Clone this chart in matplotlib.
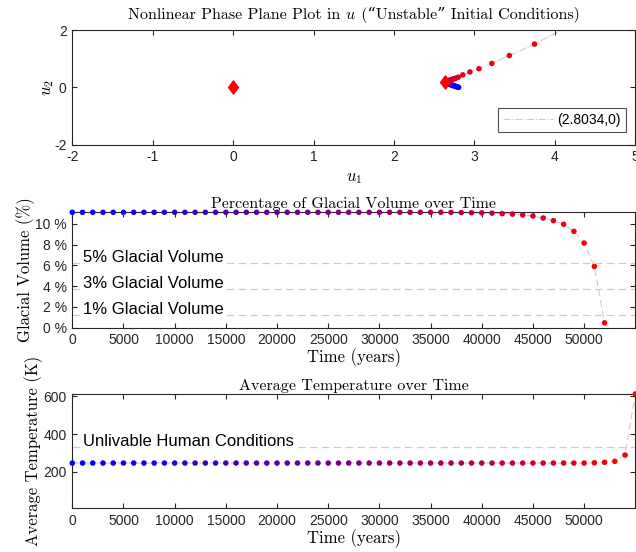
import numpy as np
import matplotlib
matplotlib.use("Agg")
import matplotlib.pyplot as plt
from matplotlib.path import Path
from matplotlib.colors import LinearSegmentedColormap
from matplotlib.ticker import FixedFormatter
from matplotlib.offsetbox import TextArea, HPacker, AnnotationBbox

plt.rcParams['axes.unicode_minus'] = False
plt.rcParams['mathtext.fontset'] = 'cm'

# ---------------- data ----------------
years = np.arange(0, 55001, 1000)          # simulation time grid (years)

# percentage of glacial volume, 0 .. 52000 years
glacial_volume = [11.13] * 35 + [
    11.13, 11.13, 11.12, 11.10, 11.09, 11.08, 11.05, 11.00, 10.96,
    10.87, 10.77, 10.58, 10.32, 9.97, 9.29, 8.16, 5.90, 0.45]

# average temperature (K), 0 .. 55000 years
temperature = [247.0] * 51 + [248.5, 251.0, 256.0, 289.0, 611.0]

# phase-plane trajectory (u1, u2), one point per time step
u1 = [2.803, 2.791, 2.779, 2.767, 2.756, 2.745, 2.735, 2.725, 2.716, 2.707,
      2.699, 2.691, 2.684, 2.678, 2.672, 2.667, 2.662, 2.658, 2.654, 2.651,
      2.648, 2.646, 2.644, 2.643, 2.643, 2.643, 2.644, 2.645, 2.647, 2.649,
      2.652, 2.655, 2.658, 2.662, 2.666, 2.670, 2.675, 2.680, 2.686, 2.692,
      2.699, 2.707, 2.716, 2.726, 2.738, 2.752, 2.770, 2.798, 2.854, 2.944,
      3.056, 3.217, 3.434, 3.747, 4.300, 5.400]
u2 = [0.000, 0.011, 0.022, 0.033, 0.044, 0.055, 0.065, 0.075, 0.084, 0.093,
      0.101, 0.109, 0.116, 0.123, 0.129, 0.135, 0.140, 0.145, 0.150, 0.154,
      0.158, 0.162, 0.166, 0.170, 0.174, 0.178, 0.182, 0.186, 0.190, 0.194,
      0.198, 0.202, 0.206, 0.211, 0.216, 0.221, 0.226, 0.232, 0.238, 0.245,
      0.252, 0.260, 0.269, 0.279, 0.291, 0.305, 0.323, 0.352, 0.434, 0.537,
      0.651, 0.834, 1.109, 1.509, 2.320, 4.000]

equilibria_u1 = [0.0, 2.63]
equilibria_u2 = [0.0, 0.17]
trajectory_label = '(2.8034,0)'

volume_levels = [6.25, 3.75, 1.25]
volume_labels = ['5% Glacial Volume', '3% Glacial Volume', '1% Glacial Volume']
unlivable_temp = 332
unlivable_label = 'Unlivable Human Conditions'

# ---------------- styling ----------------
SERIF = ['cmr10', 'DejaVu Serif']
SANS = 'Liberation Sans'
AX_COL = (0.15, 0.15, 0.15)
GREY = (0.8, 0.8, 0.8)
DASH = (0, (6, 3.5))
blue_red = LinearSegmentedColormap.from_list('blue_red', [(0, 0, 1), (1, 0, 0)])
diamond = Path([(0, 1), (0.75, 0), (0, -1), (-0.75, 0), (0, 1)],
               [Path.MOVETO, Path.LINETO, Path.LINETO, Path.LINETO, Path.CLOSEPOLY])

W, H = 636, 552
fig = plt.figure(figsize=(W / 100, H / 100), dpi=100)


def make_axes(top_px, bottom_px, left_px=72.3, right_px=635.3):
    return fig.add_axes([left_px / W, 1 - bottom_px / H,
                         (right_px - left_px) / W, (bottom_px - top_px) / H])


def style(ax):
    for s in ax.spines.values():
        s.set_color(AX_COL)
        s.set_linewidth(0.8)
    ax.tick_params(direction='in', length=3.5, width=0.8, colors=AX_COL,
                   top=True, right=True, labelsize=10, pad=4)
    for lab in ax.get_xticklabels() + ax.get_yticklabels():
        lab.set_fontfamily(SANS)


def point_colors(n):
    return blue_red(np.linspace(0, 1, n))


# ---------------- phase plane ----------------
ax1 = make_axes(30, 144.7)
ax1.plot(u1, u2, ls='-.', color=GREY, lw=0.8, zorder=1, label=trajectory_label)
ax1.scatter(u1, u2, c=point_colors(len(u1)), s=16, edgecolors='none', zorder=3)
ax1.plot(equilibria_u1, equilibria_u2, ls='none', marker=diamond, ms=9.5,
         color='red', zorder=4)
ax1.set_xlim(-2, 5)
ax1.set_ylim(-2, 2)
ax1.set_xticks(range(-2, 6))
ax1.set_yticks([-2, 0, 2])

# title assembled from pieces: roman text, math-italic u, roman text with curly quotes
title_props = dict(family=SERIF, size=11.5, color='black')
title_parts = [
    TextArea('Nonlinear Phase Plane Plot in ', textprops=title_props),
    TextArea('$u$', textprops=dict(size=11.5, color='black')),
    TextArea(' (\u201cUnstable\u201d Initial Conditions)', textprops=title_props),
]
title_box = HPacker(children=title_parts, align='baseline', pad=0, sep=0)
ax1.add_artist(AnnotationBbox(title_box, (0.5, 1.0), xycoords='axes fraction',
                              xybox=(0, 5), boxcoords='offset points',
                              box_alignment=(0.5, 0.0), frameon=False, pad=0,
                              annotation_clip=False))

ax1.set_xlabel('$u_1$', fontsize=12, labelpad=3)
ax1.set_ylabel('$u_2$', fontsize=12, labelpad=-1)
style(ax1)
leg = ax1.legend(loc='lower right', bbox_to_anchor=(0.9826, 0.113), borderaxespad=0,
                 handlelength=3.6, frameon=True, fancybox=False,
                 prop={'family': SANS, 'size': 10}, borderpad=0.35, handletextpad=0.3)
leg.get_frame().set_edgecolor(AX_COL)
leg.get_frame().set_linewidth(0.8)

# ---------------- glacial volume ----------------
ax2 = make_axes(212.3, 327.5)
vol_years = years[:len(glacial_volume)]
ax2.plot(vol_years, glacial_volume, ls=DASH, color=GREY, lw=0.8, zorder=1)
ax2.scatter(vol_years, glacial_volume, c=point_colors(len(glacial_volume)), s=16,
            edgecolors='none', zorder=3, clip_on=False)
for lvl, lab in zip(volume_levels, volume_labels):
    ax2.axhline(lvl, ls=DASH, color=GREY, lw=0.9, zorder=0)
    ax2.text(1000, lvl + 0.08, lab, fontfamily=SANS, fontsize=12, va='baseline', ha='left',
             color='black', zorder=2,
             bbox=dict(fc='white', ec='none', pad=0.6))
ax2.set_xlim(0, 55000)
ax2.set_ylim(0, max(glacial_volume))
ax2.set_xticks(range(0, 50001, 5000))
ax2.xaxis.set_major_formatter(FixedFormatter([str(v) for v in range(0, 50001, 5000)]))
ax2.set_yticks(range(0, 11, 2))
ax2.set_yticklabels([f'{v} %' for v in range(0, 11, 2)])
ax2.set_title('Percentage of Glacial Volume over Time', fontfamily=SERIF, fontsize=11.5, pad=3)
ax2.set_xlabel('Time (years)', fontfamily=SERIF, fontsize=12, labelpad=1)
ax2.set_ylabel('Glacial Volume (%)', fontfamily=SERIF, fontsize=12, labelpad=0)
style(ax2)

# ---------------- temperature ----------------
ax3 = make_axes(394, 508)
ax3.plot(years, temperature, ls=DASH, color=GREY, lw=0.8, zorder=1)
ax3.scatter(years, temperature, c=point_colors(len(temperature)), s=16,
            edgecolors='none', zorder=3, clip_on=False)
ax3.axhline(unlivable_temp, ls=DASH, color=GREY, lw=0.9, zorder=0)
ax3.text(1000, unlivable_temp + 6, unlivable_label, fontfamily=SANS, fontsize=12,
         va='baseline', ha='left', color='black', zorder=2,
         bbox=dict(fc='white', ec='none', pad=0.6))
ax3.set_xlim(0, 55000)
ax3.set_ylim(10, max(temperature))
ax3.set_xticks(range(0, 50001, 5000))
ax3.set_yticks([200, 400, 600])
ax3.set_title('Average Temperature over Time', fontfamily=SERIF, fontsize=11.5, pad=3)
ax3.set_xlabel('Time (years)', fontfamily=SERIF, fontsize=12, labelpad=1)
ax3.set_ylabel('Average Temperature (K)', fontfamily=SERIF, fontsize=12, labelpad=0)
style(ax3)

fig.savefig('out.png', dpi=100)
